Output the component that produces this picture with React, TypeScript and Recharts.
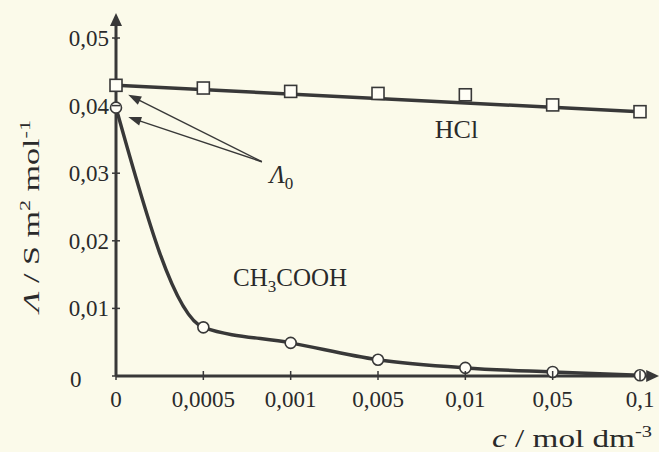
import React from "react";
import { LineChart, Line, XAxis, YAxis, ReferenceLine, ReferenceDot } from "recharts";

// concentration categories (evenly spaced, not to scale)
const concLabels = ["0", "0,0005", "0,001", "0,005", "0,01", "0,05", "0,1"];
const hclValues = [0.043, 0.0426, 0.0421, 0.0418, 0.0416, 0.0401, 0.0391];
// straight line drawn through the HCl points (ends)
const hclLine = [0.0430, null, null, null, null, null, 0.0391];
const aceticValues = [0.0397, 0.0072, 0.0049, 0.0024, 0.0012, 0.0006, 0.0001];
const yTicks = [0, 0.01, 0.02, 0.03, 0.04, 0.05];
const yTickLabels = ["0", "0,01", "0,02", "0,03", "0,04", "0,05"];

const data = concLabels.map((c, i) => ({
  idx: i,
  label: c,
  hcl: hclValues[i],
  hclFit: hclLine[i],
  acetic: aceticValues[i],
}));

const INK = "#383838";
const BG = "#fbfaea";
const SERIF = "'Liberation Serif', 'Times New Roman', serif";

function arrowShape(width: number, head: number, halfW: number) {
  return (p: any) => {
    const { x1, y1, x2, y2 } = p;
    const dx = x2 - x1;
    const dy = y2 - y1;
    const len = Math.hypot(dx, dy) || 1;
    const ux = dx / len;
    const uy = dy / len;
    const bx = x2 - ux * head;
    const by = y2 - uy * head;
    const px = -uy * halfW;
    const py = ux * halfW;
    return (
      <g>
        <line x1={x1} y1={y1} x2={bx + ux} y2={by + uy} stroke={INK} strokeWidth={width} />
        <polygon points={`${x2},${y2} ${bx + px},${by + py} ${bx - px},${by - py}`} fill={INK} />
      </g>
    );
  };
}

const XTick = (props: any) => {
  const { x, y, payload } = props;
  return (
    <g>
      <line x1={x} x2={x} y1={y - 5} y2={y + 4} stroke={INK} strokeWidth={1.5} />
      <text x={x} y={y + 31} textAnchor="middle" fontFamily={SERIF} fontSize={23} fill="#2a2a2a">
        {concLabels[payload.value]}
      </text>
    </g>
  );
};

const YTick = (props: any) => {
  const { x, y, payload, index } = props;
  const zero = payload.value === 0;
  return (
    <g>
      <line x1={x - 4} x2={x + 4} y1={y} y2={y} stroke={INK} strokeWidth={1.5} />
      <text
        x={zero ? x - 46 : x - 7}
        y={zero ? y + 11 : y + 8}
        textAnchor={zero ? "start" : "end"}
        fontFamily={SERIF}
        fontSize={23}
        fill="#2a2a2a"
      >
        {yTickLabels[index]}
      </text>
    </g>
  );
};

const YLabel = (props: any) => {
  const vb = props.viewBox;
  const cx = vb.x + 39;
  const cy = vb.y + vb.height / 2 + 9;
  return (
    <text
      x={cx}
      y={cy}
      transform={`rotate(-90, ${cx}, ${cy})`}
      textAnchor="middle"
      fontFamily={SERIF}
      fontSize={23}
      textLength={192}
      lengthAdjust="spacingAndGlyphs"
      fill="#2a2a2a"
    >
      <tspan fontStyle="italic">Λ</tspan>
      <tspan> / S m</tspan>
      <tspan dy={-9} fontSize={15}>2</tspan>
      <tspan dy={9}> mol</tspan>
      <tspan dy={-9} fontSize={15}>-1</tspan>
    </text>
  );
};

const XLabel = (props: any) => {
  const vb = props.viewBox;
  return (
    <text
      x={vb.x + vb.width + 12}
      y={vb.y + 71}
      textAnchor="end"
      fontFamily={SERIF}
      fontSize={26}
      textLength={160}
      lengthAdjust="spacingAndGlyphs"
      fill="#2a2a2a"
    >
      <tspan fontStyle="italic">c</tspan>
      <tspan> / mol dm</tspan>
      <tspan dy={-10} fontSize={16}>-3</tspan>
    </text>
  );
};

const squareDot = (p: any) => (
  <rect
    key={`sq-${p.index}`}
    x={p.cx - 6}
    y={p.cy - 6}
    width={12}
    height={12}
    fill="#fffef6"
    stroke={INK}
    strokeWidth={1.6}
  />
);

const circleDot = (p: any) => (
  <circle key={`ci-${p.index}`} cx={p.cx} cy={p.cy} r={5.5} fill="#fffef6" stroke={INK} strokeWidth={1.6} />
);

const textAt = (content: React.ReactNode, size: number) => (p: any) => (
  <text x={p.cx} y={p.cy} fontFamily={SERIF} fontSize={size} fill="#2a2a2a">
    {content}
  </text>
);

const axisLineStyle = { stroke: INK, strokeWidth: 3 };

export default function App() {
  return (
    <div style={{ position: "absolute", left: 0, top: 0, width: 659, height: 452, background: BG }}>
      <LineChart width={659} height={452} data={data} margin={{ top: 38, right: 19, bottom: 46, left: 0 }}>
        <XAxis
          dataKey="idx"
          type="number"
          domain={[0, 6]}
          ticks={[0, 1, 2, 3, 4, 5, 6]}
          interval={0}
          height={30}
          axisLine={axisLineStyle}
          tickLine={false}
          tickSize={0}
          tickMargin={0}
          tick={XTick}
          label={{ content: XLabel }}
          zIndex={100}
        />
        <YAxis
          type="number"
          domain={[0, 0.05]}
          ticks={yTicks}
          interval={0}
          width={116}
          axisLine={axisLineStyle}
          tickLine={false}
          tickSize={0}
          tickMargin={0}
          tick={YTick}
          label={{ content: YLabel }}
          zIndex={100}
        />
        {/* arrow heads extending the axes */}
        <ReferenceLine
          segment={[{ x: 0, y: 0.0498 }, { x: 0, y: 0.0537 }]}
          ifOverflow="visible"
          shape={arrowShape(3, 13, 6)}
        />
        <ReferenceLine
          segment={[{ x: 6.07, y: 0 }, { x: 6.22, y: 0 }]}
          ifOverflow="visible"
          shape={arrowShape(3, 13, 6)}
        />
        {/* Λ0 pointers */}
        <ReferenceLine
          segment={[{ x: 1.67, y: 0.0317 }, { x: 0.14, y: 0.0416 }]}
          ifOverflow="visible"
          shape={arrowShape(1.5, 13, 4.5)}
        />
        <ReferenceLine
          segment={[{ x: 1.67, y: 0.0317 }, { x: 0.14, y: 0.0383 }]}
          ifOverflow="visible"
          shape={arrowShape(1.5, 13, 4.5)}
        />
        <Line
          dataKey="hclFit"
          type="linear"
          stroke={INK}
          strokeWidth={3.5}
          connectNulls
          dot={false}
          activeDot={false}
          isAnimationActive={false}
        />
        <Line
          dataKey="hcl"
          type="linear"
          stroke="none"
          dot={squareDot}
          activeDot={false}
          isAnimationActive={false}
        />
        <Line
          dataKey="acetic"
          type="monotone"
          stroke={INK}
          strokeWidth={3.5}
          dot={circleDot}
          activeDot={false}
          isAnimationActive={false}
        />
        <ReferenceDot x={3.65} y={0.0352} r={0} ifOverflow="visible" shape={textAt("HCl", 26)} />
        <ReferenceDot
          x={1.34}
          y={0.0133}
          r={0}
          ifOverflow="visible"
          shape={textAt(
            <>
              <tspan>CH</tspan>
              <tspan dy={6} fontSize={17}>3</tspan>
              <tspan dy={-6}>COOH</tspan>
            </>,
            25
          )}
        />
        <ReferenceDot
          x={1.76}
          y={0.0286}
          r={0}
          ifOverflow="visible"
          shape={textAt(
            <>
              <tspan fontStyle="italic">Λ</tspan>
              <tspan dy={6} fontSize={17}>0</tspan>
            </>,
            25
          )}
        />
      </LineChart>
    </div>
  );
}
